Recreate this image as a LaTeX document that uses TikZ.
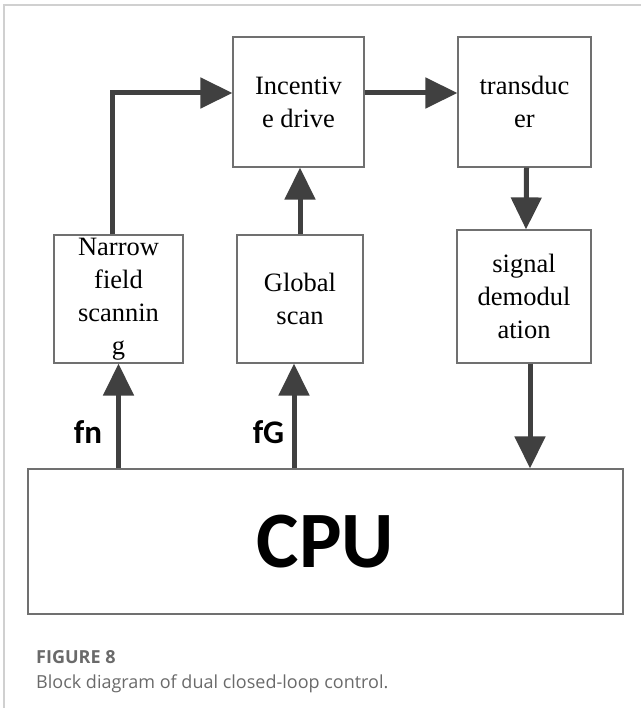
\documentclass[tikz,border=0pt]{standalone}
\usepackage{fontspec}
\setmainfont{Liberation Serif}
\newfontfamily\boldsans{Carlito}
\newfontfamily\captionsans{Open Sans}
\usepackage{xcolor}
\usetikzlibrary{arrows.meta,calc}

\definecolor{arrowgray}{HTML}{404040}
\definecolor{boxgray}{HTML}{707070}
\definecolor{framegray}{HTML}{D0D0D0}
\definecolor{captiongray}{HTML}{6A6A6A}

\begin{document}
\begin{tikzpicture}[x=1pt,y=-1pt,
  blockbox/.style={draw=boxgray,line width=1.2pt,align=center,inner sep=0pt,
    font=\fontsize{26.5}{33}\selectfont},
  flowarrow/.style={draw=arrowgray,line width=5pt,
    -{Triangle[length=32pt,width=30pt]}},
  freqlabel/.style={font=\boldsans\bfseries\fontsize{33}{36}\selectfont}]
  \useasboundingbox (0,0) rectangle (641,708);

  % Frame
  \draw[framegray,line width=1.5pt] (4,708) -- (4,5) -- (641,5);

  % Blocks
  \node[blockbox,minimum width=131pt,minimum height=130pt] (incent) at (298.5,102) {Incentiv\\e drive};
  \node[blockbox,minimum width=133pt,minimum height=130pt] (trans) at (524.5,102) {transduc\\er};
  \node[blockbox,minimum width=129pt,minimum height=128pt] (narrow) at (118.5,299) {Narrow\\field\\scannin\\g};
  \node[blockbox,minimum width=126pt,minimum height=128pt] (glob) at (300,299) {Global\\scan};
  \node[blockbox,minimum width=134pt,minimum height=133pt] (demod) at (524,296.5) {signal\\demodul\\ation};
  \node[blockbox,minimum width=595pt,minimum height=145pt,
    font=\boldsans\bfseries\fontsize{80}{90}\selectfont] (cpu) at (325.5,541.5) {CPU};

  % Connectors
  \draw[flowarrow] ([xshift=-6pt]narrow.north) |- ([yshift=9pt]incent.west);
  \draw[flowarrow] ([yshift=9pt]incent.east) -- ([yshift=9pt]trans.west);
  \draw[flowarrow] ([xshift=2pt]trans.south) -- ([xshift=2pt]demod.north);
  \draw[flowarrow] ([xshift=6pt]demod.south) -- ([xshift=6pt]demod.south |- cpu.north);
  \draw[flowarrow] (glob.north) -- (glob.north |- incent.south);
  \draw[flowarrow] (narrow.south |- cpu.north) -- (narrow.south);
  \draw[flowarrow] ([xshift=-6pt]glob.south |- cpu.north) -- ([xshift=-6pt]glob.south);

  % Frequency labels
  \node[freqlabel] (fnlab) at (88,432) {fn};
  \node[freqlabel] (fglab) at (268.5,432) {fG};

  % Caption
  \node[anchor=base west,inner sep=0pt,text=captiongray,
    font=\captionsans\bfseries\fontsize{18}{21}\selectfont] (capnum) at (36,663) {FIGURE 8};
  \node[anchor=base west,inner sep=0pt,text=captiongray,
    font=\captionsans\fontsize{18}{22}\selectfont] (captext) at (36,688) {Block diagram of dual closed-loop control.};
\end{tikzpicture}
\end{document}
